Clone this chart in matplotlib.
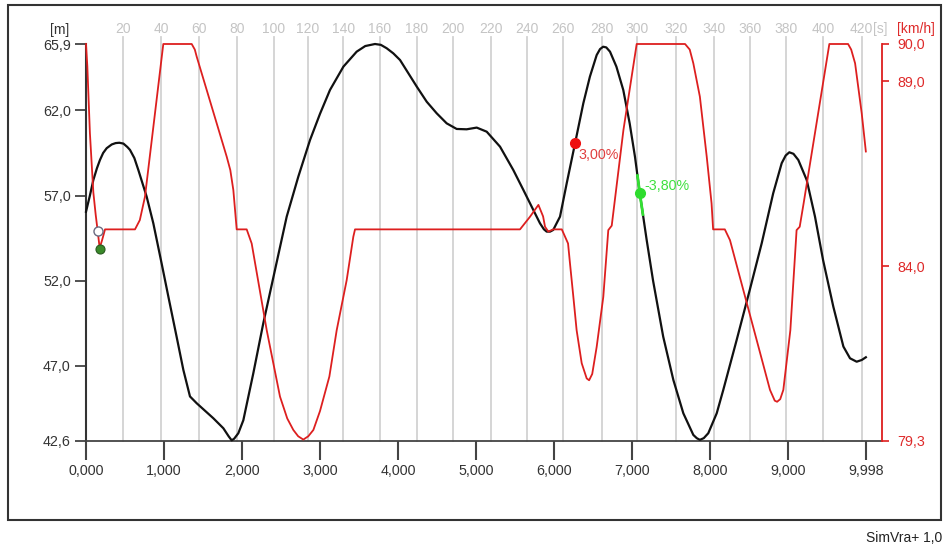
import numpy as np
import matplotlib
matplotlib.use("Agg")
import matplotlib.pyplot as plt
from matplotlib.patches import Rectangle
from matplotlib.ticker import FixedLocator, NullLocator

plt.rcParams['font.family'] = ['Liberation Sans', 'DejaVu Sans']

# ---- route elevation profile (distance km, elevation m) ----
dist_elev_km = [0.000, 0.050, 0.094, 0.140, 0.179, 0.220, 0.265, 0.330, 0.380, 0.427,
                0.480, 0.530, 0.564, 0.620, 0.671, 0.778, 0.863, 0.970,
                1.056, 1.162, 1.248, 1.333, 1.419, 1.632, 1.761, 1.830, 1.868, 1.900,
                1.953, 2.017, 2.145, 2.273, 2.423, 2.573, 2.722, 2.872, 3.000, 3.128,
                3.300, 3.470, 3.580, 3.705, 3.780, 3.855, 3.940, 4.026, 4.240, 4.368,
                4.496, 4.624, 4.752, 4.880, 5.009, 5.137, 5.308, 5.478, 5.607, 5.735,
                5.820, 5.870, 5.906, 5.950, 5.990, 6.077, 6.163, 6.270, 6.376, 6.460,
                6.547, 6.590, 6.630, 6.670, 6.718, 6.800, 6.888, 6.970, 7.038, 7.100,
                7.188, 7.270, 7.400, 7.530, 7.658, 7.786, 7.830, 7.870, 7.920, 7.978,
                8.086, 8.170, 8.342, 8.510, 8.663, 8.810, 8.919, 8.970, 9.017, 9.070,
                9.132, 9.240, 9.346, 9.450, 9.581, 9.710, 9.795, 9.880, 9.945, 9.998]
elev_m = [56.05, 57.00, 57.91, 58.60, 59.09, 59.50, 59.78, 60.00, 60.08, 60.10,
          60.05, 59.85, 59.68, 59.20, 58.50, 56.93, 55.37, 53.00,
          51.06, 48.70, 46.76, 45.20, 44.80, 43.92, 43.33, 42.85, 42.62, 42.72,
          43.04, 43.80, 46.56, 49.50, 52.63, 55.76, 58.11, 60.26, 61.80, 63.20,
          64.57, 65.45, 65.78, 65.90, 65.85, 65.65, 65.35, 64.96, 63.40, 62.51,
          61.83, 61.24, 60.91, 60.89, 60.99, 60.75, 59.87, 58.50, 57.33, 56.15,
          55.37, 55.02, 54.88, 54.88, 54.98, 55.76, 57.72, 60.07, 62.42, 63.98,
          65.25, 65.60, 65.74, 65.70, 65.45, 64.57, 63.20, 61.24, 59.28, 57.13,
          54.39, 52.00, 48.71, 46.17, 44.21, 42.94, 42.75, 42.65, 42.75, 43.04,
          44.21, 45.58, 48.52, 51.46, 54.20, 57.13, 58.90, 59.35, 59.54, 59.45,
          59.09, 57.91, 55.76, 53.20, 50.47, 48.13, 47.44, 47.24, 47.34, 47.50]

# ---- simulated speed (distance km, speed km/h) ----
dist_speed_km = [0.000, 0.017, 0.050, 0.094, 0.124, 0.150, 0.175, 0.205, 0.244, 0.628,
                 0.690, 0.756, 0.991, 1.355, 1.395, 1.419, 1.804, 1.850, 1.889, 1.932,
                 2.060, 2.124, 2.317, 2.487, 2.580, 2.658, 2.720, 2.786, 2.850, 2.915,
                 3.000, 3.120, 3.214, 3.342, 3.427, 3.449, 5.564, 5.692, 5.800, 5.860,
                 5.885, 5.927, 5.990, 6.100, 6.180, 6.205, 6.248, 6.290, 6.355, 6.419,
                 6.450, 6.490, 6.547, 6.632, 6.696, 6.740, 6.890, 7.060, 7.680, 7.740,
                 7.786, 7.870, 7.958, 8.020, 8.040, 8.190, 8.256, 8.769, 8.830, 8.860,
                 8.900, 8.940, 9.030, 9.110, 9.150, 9.200, 9.530, 9.770, 9.810, 9.860,
                 9.945, 9.998]
speed_kmh = [90.00, 89.40, 87.60, 86.00, 85.40, 84.95, 84.50, 84.70, 85.00, 85.00,
             85.25, 85.88, 90.00, 90.00, 89.85, 89.66, 86.96, 86.60, 86.06, 85.00,
             85.00, 84.62, 82.28, 80.49, 79.90, 79.59, 79.42, 79.33, 79.42, 79.59,
             80.10, 81.03, 82.28, 83.63, 84.80, 85.00, 85.00, 85.34, 85.66, 85.35,
             85.07, 84.94, 85.00, 85.00, 84.62, 84.08, 83.18, 82.28, 81.39, 80.98,
             80.93, 81.10, 81.83, 83.18, 84.98, 85.10, 87.68, 90.00, 90.00, 89.85,
             89.48, 88.58, 86.96, 85.70, 85.00, 85.00, 84.71, 80.67, 80.38, 80.35,
             80.42, 80.67, 82.28, 84.98, 85.07, 85.70, 90.00, 90.00, 89.85, 89.48,
             88.13, 87.10]

# ---- elapsed time marks (s) and the distance (km) reached at each ----
time_s = [20, 40, 60, 80, 100, 120, 140, 160, 180, 200, 220,
          240, 260, 280, 300, 320, 340, 360, 380, 400, 420]
time_dist_km = [0.478, 0.962, 1.453, 1.940, 2.410, 2.840, 3.299, 3.769, 4.240, 4.709, 5.188,
                5.650, 6.119, 6.612, 7.068, 7.560, 8.055, 8.513, 8.971, 9.453, 9.945]

# ---- axis ticks ----
dist_ticks = [0.0, 1.0, 2.0, 3.0, 4.0, 5.0, 6.0, 7.0, 8.0, 9.0, 9.998]
elev_ticks = [42.6, 47.0, 52.0, 57.0, 62.0, 65.9]
speed_ticks = [79.3, 84.0, 89.0, 90.0]

# ---- grade markers ----
grade_up_km, grade_up_m, grade_up_text = 6.27, 60.07, "3,00%"
grade_down_km, grade_down_m, grade_down_text = 7.10, 57.13, "-3,80%"
start_open_km, start_open_kmh = 0.150, 84.95
start_dot_km, start_dot_kmh = 0.175, 84.48

W, H = 943, 546
fig = plt.figure(figsize=(W / 100, H / 100), dpi=100)

def px(x, y):
    return x / W, 1 - y / H

left, right, top, bottom = 86, 882, 44, 440.7
ax = fig.add_axes([left / W, 1 - bottom / H, (right - left) / W, (bottom - top) / H])
ax2 = ax.twinx()

xmax = 10.205
ax.set_xlim(0, xmax)
ax.set_ylim(elev_ticks[0], elev_ticks[-1])
ax2.set_ylim(speed_ticks[0], speed_ticks[-1])
ax.patch.set_visible(False)

def comma(v, fmt):
    return format(v, fmt).replace('.', ',')

text_col = '#333333'
red = '#dd1f1f'
red_txt = '#de2a2a'

# time grid lines and labels
for t, d in zip(time_s, time_dist_km):
    ax.plot([d, d], [0, 1.018], transform=ax.get_xaxis_transform(), color='#d2d2d2',
            lw=1.3, clip_on=False, zorder=0)
    ax.text(d, 1.037, str(t), transform=ax.get_xaxis_transform(), ha='center', va='center',
            color='#c4c4c4', fontsize=10)
ax.annotate("[s]", xy=(time_dist_km[-1], 1.037), xycoords=ax.get_xaxis_transform(),
            xytext=(8.3, 0), textcoords='offset points', ha='left', va='center',
            color='#c4c4c4', fontsize=10)

# elevation profile
ax.plot(dist_elev_km, elev_m, color='#111111', lw=1.6, clip_on=False, zorder=3,
        solid_joinstyle='round')

# grade highlights on the profile
seg = np.linspace(7.07, 7.14, 12)
ax.plot(seg, np.interp(seg, dist_elev_km, elev_m), color='#33e033', lw=2.0, zorder=4,
        clip_on=False)
ax.plot([grade_up_km], [grade_up_m], 'o', color='#ee1111', ms=7, zorder=5)
ax.annotate(grade_up_text, xy=(grade_up_km, grade_up_m), xytext=(2.5, -8.5),
            textcoords='offset points', ha='left', va='center', color='#e04040', fontsize=10.3)
ax.plot([grade_down_km], [grade_down_m], 'o', color='#2edc2e', ms=7, zorder=5)
ax.annotate(grade_down_text, xy=(grade_down_km, grade_down_m), xytext=(3.6, 5),
            textcoords='offset points', ha='left', va='center', color='#3ee03e', fontsize=10.3)

# speed
ax2.plot(dist_speed_km, speed_kmh, color=red, lw=1.3, clip_on=False, zorder=3,
         solid_joinstyle='round')
ax2.plot([start_open_km], [start_open_kmh], 'o', mfc='white', mec='#6a6a80', mew=1.0,
         ms=6.5, zorder=5)
ax2.plot([start_dot_km], [start_dot_kmh], 'o', mfc='#3a8a2a', mec='#2a5a20', mew=0.8,
         ms=6.5, zorder=5)

# spines
for a in (ax, ax2):
    a.spines['top'].set_visible(False)
ax.spines['right'].set_visible(False)
ax2.spines['left'].set_visible(False)
ax2.spines['bottom'].set_visible(False)
ax.spines['left'].set_color('#333333')
ax.spines['left'].set_linewidth(1.5)
ax.spines['bottom'].set_color('#444444')
ax.spines['bottom'].set_linewidth(1.3)
ax2.spines['right'].set_color(red)
ax2.spines['right'].set_linewidth(1.3)

# ticks
ax.xaxis.set_major_locator(FixedLocator(dist_ticks))
ax.set_xticklabels([comma(v, '.3f') for v in dist_ticks])
ax.yaxis.set_major_locator(FixedLocator(elev_ticks))
ax.set_yticklabels([comma(v, '.1f') for v in elev_ticks])
ax2.yaxis.set_major_locator(FixedLocator(speed_ticks))
ax2.set_yticklabels([comma(v, '.1f') for v in speed_ticks])
ax.tick_params(axis='x', direction='out', length=14, width=1.5, color='#444444',
               pad=2.5, labelsize=10.3, labelcolor=text_col)
ax.tick_params(axis='y', direction='out', length=7.7, width=1.2, color='#333333',
               pad=3.2, labelsize=10.3, labelcolor=text_col)
ax2.tick_params(axis='y', direction='out', length=5, width=1.2, color=red,
                pad=5.8, labelsize=10.3, labelcolor=red_txt)
ax.xaxis.set_minor_locator(NullLocator())

# axis unit labels
fig.text(*px(60, 30), "[m]", ha='center', va='center', color=text_col, fontsize=10)
fig.text(*px(897, 29.5), "[km/h]", ha='left', va='center', color=red_txt, fontsize=10)

# outer frame and footer
fig.add_artist(Rectangle(px(8, 519.5), (941 - 8) / W, (519.5 - 5) / H, transform=fig.transFigure,
                         fill=False, ec='#333333', lw=1.5))
fig.text(*px(866, 537.5), "SimVra+ 1,0", ha='left', va='center', color='#222222', fontsize=10)

fig.savefig("out.png", dpi=100)
